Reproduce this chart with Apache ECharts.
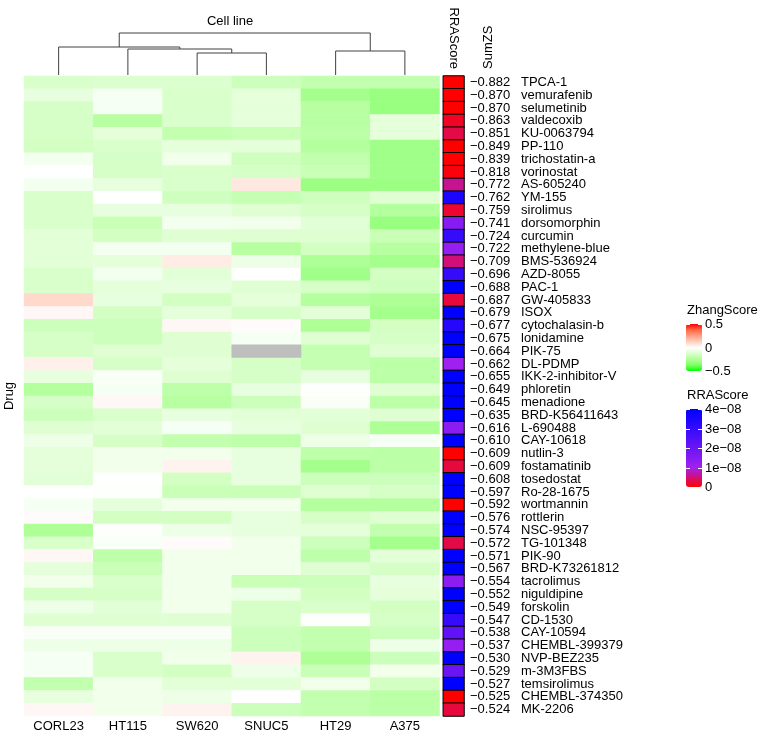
<!DOCTYPE html>
<html><head><meta charset="utf-8">
<script src="https://cdn.jsdelivr.net/npm/echarts@6/dist/echarts.min.js"></script>
<style>html,body{margin:0;padding:0;background:#fff}#c{width:765px;height:737px}</style>
</head><body><div id="c"></div>
<script>
const cellLines = ['CORL23','HT115','SW620','SNUC5','HT29','A375'];
const drugs = ['TPCA-1','vemurafenib','selumetinib','valdecoxib','KU-0063794','PP-110','trichostatin-a','vorinostat','AS-605240','YM-155','sirolimus','dorsomorphin','curcumin','methylene-blue','BMS-536924','AZD-8055','PAC-1','GW-405833','ISOX','cytochalasin-b','lonidamine','PIK-75','DL-PDMP','IKK-2-inhibitor-V','phloretin','menadione','BRD-K56411643','L-690488','CAY-10618','nutlin-3','fostamatinib','tosedostat','Ro-28-1675','wortmannin','rottlerin','NSC-95397','TG-101348','PIK-90','BRD-K73261812','tacrolimus','niguldipine','forskolin','CD-1530','CAY-10594','CHEMBL-399379','NVP-BEZ235','m-3M3FBS','temsirolimus','CHEMBL-374350','MK-2206'];
const sumZS = [-0.882,-0.870,-0.870,-0.863,-0.851,-0.849,-0.839,-0.818,-0.772,-0.762,-0.759,-0.741,-0.724,-0.722,-0.709,-0.696,-0.688,-0.687,-0.679,-0.677,-0.675,-0.664,-0.662,-0.655,-0.649,-0.645,-0.635,-0.616,-0.610,-0.609,-0.609,-0.608,-0.597,-0.592,-0.576,-0.574,-0.572,-0.571,-0.567,-0.554,-0.552,-0.549,-0.547,-0.538,-0.537,-0.530,-0.529,-0.527,-0.525,-0.524];
const rraScore = [0,0,0,1.5e-9,3e-9,0,0,0.5e-9,6e-9,3.5e-8,2e-9,1.5e-8,3e-8,1.2e-8,5e-9,3e-8,4e-8,2.5e-9,4e-8,3.3e-8,4e-8,4e-8,1e-8,4e-8,4e-8,4e-8,4e-8,1.4e-8,4e-8,0,2.5e-9,4e-8,4e-8,0,4e-8,4e-8,3e-9,4e-8,4e-8,1.4e-8,4e-8,4e-8,3e-8,2.2e-8,1.2e-8,4e-8,2e-8,4e-8,0,2.5e-9];
const corl23 = [-0.13,-0.08,-0.14,-0.14,-0.14,-0.15,-0.04,0.00,-0.04,-0.13,-0.13,-0.13,-0.10,-0.10,-0.10,-0.13,-0.13,0.10,0.02,-0.17,-0.14,-0.14,0.04,-0.08,-0.24,-0.14,-0.17,-0.11,-0.06,-0.09,-0.09,-0.10,0.00,-0.03,0.01,-0.26,-0.13,0.02,-0.09,-0.05,-0.14,-0.06,-0.11,-0.02,-0.06,-0.03,-0.03,-0.20,-0.08,0.02];
const ht115 = [-0.12,-0.03,-0.03,-0.23,-0.09,-0.13,-0.14,-0.14,-0.08,0.00,-0.08,-0.18,-0.15,-0.04,-0.09,-0.04,-0.09,-0.08,-0.15,-0.17,-0.17,-0.11,-0.14,-0.02,-0.03,0.02,-0.13,-0.10,-0.14,-0.05,-0.05,0.00,-0.01,-0.09,-0.15,-0.01,-0.02,-0.21,-0.18,-0.13,-0.14,-0.10,-0.11,-0.02,-0.06,-0.13,-0.13,-0.05,-0.05,-0.05];
const sw620 = [-0.12,-0.13,-0.13,-0.13,-0.20,-0.09,-0.05,-0.13,-0.13,-0.16,-0.08,-0.04,-0.11,-0.04,0.05,-0.10,-0.08,-0.15,-0.09,0.02,-0.11,-0.11,-0.09,-0.11,-0.21,-0.23,-0.08,-0.03,-0.20,-0.05,0.03,-0.15,-0.18,-0.05,-0.15,-0.06,0.01,-0.05,-0.05,-0.05,-0.05,-0.05,-0.11,-0.02,-0.06,-0.05,-0.15,-0.10,-0.06,0.03];
const snuc5 = [-0.17,-0.09,-0.09,-0.09,-0.18,-0.09,-0.16,-0.14,0.06,-0.19,-0.11,-0.05,-0.11,-0.23,-0.06,0.00,-0.11,-0.09,-0.14,0.01,-0.03,null,-0.14,-0.14,-0.08,-0.17,-0.10,-0.08,-0.21,-0.08,-0.08,-0.08,-0.18,-0.05,-0.08,-0.08,-0.05,-0.05,-0.05,-0.18,-0.06,-0.14,-0.14,-0.17,-0.17,0.03,-0.06,-0.10,0.00,-0.17];
const ht29 = [-0.20,-0.28,-0.23,-0.23,-0.22,-0.24,-0.20,-0.18,-0.30,-0.16,-0.14,-0.10,-0.11,-0.15,-0.26,-0.29,-0.14,-0.24,-0.10,-0.26,-0.11,-0.19,-0.19,-0.08,-0.01,-0.02,-0.10,-0.11,-0.06,-0.21,-0.28,-0.17,-0.11,-0.24,-0.14,-0.09,-0.17,-0.21,-0.11,-0.17,-0.15,-0.13,-0.01,-0.20,-0.20,-0.26,-0.18,-0.05,-0.20,-0.20];
const a375 = [-0.20,-0.31,-0.31,-0.09,-0.09,-0.29,-0.29,-0.29,-0.30,-0.11,-0.24,-0.31,-0.18,-0.23,-0.28,-0.15,-0.16,-0.26,-0.28,-0.15,-0.14,-0.11,-0.22,-0.22,-0.11,-0.21,-0.11,-0.26,-0.03,-0.22,-0.22,-0.17,-0.14,-0.24,-0.11,-0.20,-0.28,-0.10,-0.14,-0.08,-0.09,-0.15,-0.14,-0.17,-0.06,-0.17,-0.05,-0.15,-0.22,-0.22];
// dendrogram (hclust style: negative = leaf index (1-based), positive = earlier merge)
const dendroMergeA = [-3, -5, -2, -1, 4];
const dendroMergeB = [-4, -6, 1, 3, 2];
const dendroHeight = [22, 24, 26, 28, 42];
const zhangTicks = [0.5, 0, -0.5];
const rraTicks = [4e-8, 3e-8, 2e-8, 1e-8, 0];

const FONT = 'Liberation Sans, Arial, Helvetica, sans-serif';
const columns = [corl23, ht115, sw620, snuc5, ht29, a375];
const heatData = [], naData = [];
columns.forEach((col, c) => col.forEach((v, r) => {
  if (v === null) naData.push([c, r, 0]); else heatData.push([c, r, v]);
}));
const rraData = rraScore.map((v, r) => [0, r, v]);

// dendrogram segments
const nodePos = [];
const dendroData = dendroMergeA.map((a, i) => {
  const pa = a < 0 ? [-a - 1, 0] : nodePos[a - 1];
  const b = dendroMergeB[i];
  const pb = b < 0 ? [-b - 1, 0] : nodePos[b - 1];
  nodePos.push([(pa[0] + pb[0]) / 2, dendroHeight[i]]);
  return [pa[0], pa[1], pb[0], pb[1], dendroHeight[i]];
});

const fmt = v => (v < 0 ? '\u2212' : '') + Math.abs(v).toFixed(3);
const sci = v => v === 0 ? '0' : (v / Math.pow(10, Math.floor(Math.log10(v) + 1e-9))).toFixed(0) + 'e\u2212' + String(-Math.floor(Math.log10(v) + 1e-9)).padStart(2, '0');

const ZL = {left: 686, top: 324, w: 16, h: 47, min: -0.5, max: 0.5};
const RL = {left: 686, top: 409, w: 16, h: 78, min: 0, max: 4e-8};

const graphics = [
  {type: 'text', x: 230, y: 21, style: {text: 'Cell line', font: '13px ' + FONT, fill: '#000', align: 'center', verticalAlign: 'middle'}},
  {type: 'text', x: 9, y: 396, rotation: Math.PI / 2, style: {text: 'Drug', font: '13px ' + FONT, fill: '#000', align: 'center', verticalAlign: 'middle'}},
  {type: 'text', x: 488, y: 69, rotation: Math.PI / 2, style: {text: 'SumZS', font: '13px ' + FONT, fill: '#000', align: 'left', verticalAlign: 'middle'}},
  {type: 'text', x: 687, y: 310, style: {text: 'ZhangScore', font: '13px ' + FONT, fill: '#000', align: 'left', verticalAlign: 'middle'}},
  {type: 'text', x: 687, y: 395, style: {text: 'RRAScore', font: '13px ' + FONT, fill: '#000', align: 'left', verticalAlign: 'middle'}}
];
function legendTicks(L, ticks, label) {
  ticks.forEach(t => {
    const y = Math.round(L.top + (1 - (t - L.min) / (L.max - L.min)) * L.h) + 0.5;
    graphics.push({type: 'line', z: 100, shape: {x1: L.left, y1: y, x2: L.left + 4, y2: y}, style: {stroke: '#fff', lineWidth: 1}});
    graphics.push({type: 'line', z: 100, shape: {x1: L.left + L.w - 4, y1: y, x2: L.left + L.w, y2: y}, style: {stroke: '#fff', lineWidth: 1}});
    graphics.push({type: 'text', x: L.left + L.w + 3, y: y, style: {text: label(t), font: '13px ' + FONT, fill: '#000', align: 'left', verticalAlign: 'middle'}});
  });
}
legendTicks(ZL, zhangTicks, v => v === 0 ? '0' : fmt(v).replace('.500', '.5'));
legendTicks(RL, rraTicks, sci);

const chart = echarts.init(document.getElementById('c'), null, {renderer: 'canvas'});
const hidden = {axisLine: {show: false}, axisTick: {show: false}, splitLine: {show: false}};
chart.setOption({
  animation: false,
  backgroundColor: '#fff',
  textStyle: {fontFamily: FONT},
  grid: [
    {left: 24, top: 76, width: 415.5, height: 640},
    {left: 443.3, top: 76, width: 20.7, height: 640},
    {left: 24, top: 33, width: 415.5, height: 42}
  ],
  xAxis: [
    Object.assign({type: 'category', gridIndex: 0, data: cellLines, position: 'bottom',
      axisLabel: {fontSize: 13, color: '#000', margin: 4, fontFamily: FONT}}, hidden),
    Object.assign({type: 'category', gridIndex: 1, data: ['RRAScore'], position: 'top',
      axisLabel: {fontSize: 13, color: '#000', rotate: 90, margin: 7, fontFamily: FONT}}, hidden),
    Object.assign({type: 'value', gridIndex: 2, min: -0.5, max: 5.5, show: false}, hidden)
  ],
  yAxis: [
    Object.assign({type: 'category', gridIndex: 0, data: drugs, inverse: true, axisLabel: {show: false}}, hidden),
    Object.assign({type: 'category', gridIndex: 1, data: drugs, inverse: true, position: 'right',
      axisLabel: {interval: 0, margin: 6, color: '#000', fontSize: 13, fontFamily: FONT,
        formatter: (val, idx) => '{v|' + fmt(sumZS[idx]) + '}{n|' + val + '}',
        rich: {v: {width: 51, fontSize: 13, color: '#000', fontFamily: FONT}, n: {fontSize: 13, color: '#000', fontFamily: FONT}}}}, hidden),
    Object.assign({type: 'value', gridIndex: 2, min: 0, max: dendroHeight[dendroHeight.length - 1], show: false}, hidden)
  ],
  visualMap: [
    {type: 'continuous', seriesIndex: 0, dimension: 2, min: ZL.min, max: ZL.max, calculable: false,
      orient: 'vertical', left: ZL.left, top: ZL.top, itemWidth: ZL.w, itemHeight: ZL.h, padding: 0, text: null,
      hoverLink: false,
      inRange: {color: ['#00ff00', '#7dff64', '#b1ff9a', '#dbffcd', '#ffffff', '#ffcfbf', '#ff9e81', '#ff6846', '#ff0000']}},
    {type: 'continuous', seriesIndex: 1, dimension: 2, min: RL.min, max: RL.max, calculable: false,
      orient: 'vertical', left: RL.left, top: RL.top, itemWidth: RL.w, itemHeight: RL.h, padding: 0, text: null,
      hoverLink: false,
      inRange: {color: ['#ff0000', '#a020f0', '#6b15f5', '#350bfa', '#0000ff']}}
  ],
  series: [
    {type: 'heatmap', xAxisIndex: 0, yAxisIndex: 0, data: heatData, itemStyle: {borderWidth: 0}, emphasis: {disabled: true}},
    {type: 'heatmap', xAxisIndex: 1, yAxisIndex: 1, data: rraData, itemStyle: {borderColor: '#000', borderWidth: 1}, emphasis: {disabled: true}},
    {type: 'heatmap', xAxisIndex: 0, yAxisIndex: 0, data: naData, itemStyle: {color: '#bebebe', borderWidth: 0}, emphasis: {disabled: true}},
    {type: 'custom', xAxisIndex: 2, yAxisIndex: 2, data: dendroData, encode: {x: [0, 2], y: [1, 3, 4]},
      renderItem: (params, api) => {
        const p1 = api.coord([api.value(0), api.value(1)]);
        const p2 = api.coord([api.value(0), api.value(4)]);
        const p3 = api.coord([api.value(2), api.value(4)]);
        const p4 = api.coord([api.value(2), api.value(3)]);
        return {type: 'polyline', shape: {points: [p1, p2, p3, p4]}, style: {stroke: '#404040', fill: null, lineWidth: 1}};
      }}
  ],
  graphic: graphics
});
</script></body></html>
